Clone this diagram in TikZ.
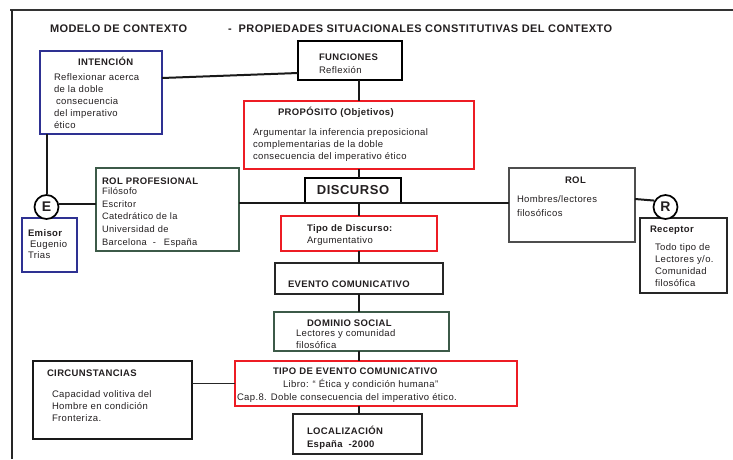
\documentclass[tikz,border=0pt]{standalone}
\usepackage{fontspec}
\setmainfont{Liberation Sans}[LetterSpace=4]
\definecolor{cblue}{HTML}{2E3192}
\definecolor{cred}{HTML}{ED1C24}
\definecolor{cgreen}{HTML}{3C5A48}
\definecolor{cgray}{HTML}{4D4D4D}
\definecolor{ctext}{HTML}{231F20}
\newcommand{\mlines}[1]{\begin{tabular}[t]{@{}l@{}}#1\end{tabular}}
\tikzset{
  bx/.style={draw, line width=1.5pt, inner sep=0pt, outer sep=0pt, anchor=north west, fill=white},
  ln/.style={line width=2pt, draw=black!90},
  tx/.style={inner sep=0pt, outer sep=0pt, anchor=base west, text=ctext, font=\fontsize{9.5}{12}\selectfont},
  hd/.style={tx, font=\fontsize{9.5}{12}\selectfont\bfseries},
  rnd/.style={circle, draw, line width=1.7pt, fill=white, minimum size=24pt, inner sep=0pt, text=ctext, font=\fontsize{14}{14}\selectfont\bfseries}
}
\begin{document}
\begin{tikzpicture}[x=1pt,y=-1pt]
\useasboundingbox (0,0) rectangle (733,459);
% frame
\draw[line width=2pt, draw=black!80] (10,10) -- (733,10);
\draw[line width=1.5pt, draw=black!85] (12,10) -- (12,459);
\coordinate (spine) at (359,0);
% title
\node[hd, font=\fontsize{11}{13}\selectfont\bfseries] (t1) at (50,32) {MODELO DE CONTEXTO};
\node[hd, font=\fontsize{11}{13}\selectfont\bfseries] (t2) at (228,32) {-\hspace{7pt}PROPIEDADES SITUACIONALES CONSTITUTIVAS DEL CONTEXTO};
% boxes
\node[bx, draw=cblue, minimum width=122pt, minimum height=83pt] (intencion) at (40,51) {};
\node[bx, draw=black, minimum width=104pt, minimum height=39pt] (funciones) at (298,41) {};
\node[bx, draw=cred, minimum width=230pt, minimum height=68pt] (proposito) at (244,101) {};
\node[bx, draw=black, line width=1.8pt, minimum width=96pt, minimum height=25pt, text=ctext, font=\fontsize{13}{13}\selectfont\bfseries] (discurso) at (305,178) {DISCURSO};
\node[bx, draw=cgreen, minimum width=143pt, minimum height=83pt] (rolprof) at (96,168) {};
\node[bx, draw=cblue, minimum width=55pt, minimum height=54pt] (emisor) at (22,218) {};
\node[bx, draw=cred, minimum width=156pt, minimum height=35pt] (tipodisc) at (281,216) {};
\node[bx, draw=black!85, minimum width=168pt, minimum height=31pt] (evento) at (275,263) {};
\node[bx, draw=cgreen, minimum width=175pt, minimum height=39pt] (dominio) at (274,312) {};
\node[bx, draw=cred, minimum width=282pt, minimum height=45pt] (tipoev) at (235,361) {};
\node[bx, draw=black!90, minimum width=159pt, minimum height=78pt] (circunst) at (33,361) {};
\node[bx, draw=black!85, minimum width=129pt, minimum height=40pt] (local) at (293,414) {};
\node[bx, draw=cgray, minimum width=126pt, minimum height=74pt] (rol) at (509,168) {};
\node[bx, draw=black!85, minimum width=87pt, minimum height=75pt] (receptor) at (640,218) {};
\node[rnd] (E) at (46.5,207) {E};
\node[rnd] (R) at (665.5,207) {R};
% connectors
\draw[ln] ([yshift=-27pt]intencion.north east) -- ([yshift=-32pt]funciones.north west);
\draw[ln] (funciones.south -| spine) -- (proposito.north -| spine);
\draw[ln] (proposito.south -| spine) -- (discurso.north -| spine);
\draw[ln] (discurso.south -| spine) -- (tipodisc.north -| spine);
\draw[ln] (tipodisc.south -| spine) -- (evento.north -| spine);
\draw[ln] (evento.south -| spine) -- (dominio.north -| spine);
\draw[ln] (dominio.south -| spine) -- (tipoev.north -| spine);
\draw[ln] (tipoev.south -| spine) -- (local.north -| spine);
\draw[ln] (E.north) -- (E.north |- intencion.south);
\draw[ln] (E.14) -- (E.14 -| rolprof.west);
\draw[ln] (rolprof.east |- discurso.south) -- (rol.west |- discurso.south);
\draw[ln] ([yshift=-31pt]rol.north east) -- (R.150);
\draw[line width=1pt, draw=black!85] (tipoev.west -| circunst.east) -- (tipoev.west);
% texts
\node[hd] (intT) at (78,65) {INTENCIÓN};
\node[tx, font=\fontsize{9.5}{12.2}\selectfont] (intB) at (54,80) {\mlines{Reflexionar acerca\\de la doble\\\hspace{2pt}consecuencia\\del imperativo\\ético}};
\node[hd] (funT) at (319,60) {FUNCIONES};
\node[tx] (funB) at (319,73) {Reflexión};
\node[hd] (proT) at (278,115) {PROPÓSITO (Objetivos)};
\node[tx] (proB) at (253,135) {\mlines{Argumentar la inferencia preposicional\\complementarias de la doble\\consecuencia del imperativo ético}};
\node[hd] (rpT) at (102,184) {ROL PROFESIONAL};
\node[tx, font=\fontsize{9.3}{12.7}\selectfont] (rpB) at (102,194.5) {\mlines{Filósofo\\Escritor\\Catedrático de la\\Universidad de\\Barcelona\hspace{6pt}-\hspace{8pt}España}};
\node[hd] (emT) at (28,236) {Emisor};
\node[tx] (emB1) at (30,247) {Eugenio};
\node[tx] (emB2) at (28,258.5) {Trias};
\node[hd] (tdT) at (307,231) {Tipo de Discurso:};
\node[tx] (tdB) at (307,243) {Argumentativo};
\node[hd] (evT) at (288,287) {EVENTO COMUNICATIVO};
\node[hd] (doT) at (307,326) {DOMINIO SOCIAL};
\node[tx] (doB) at (296,336) {\mlines{Lectores y comunidad\\filosófica}};
\node[hd] (teT) at (273,374) {TIPO DE EVENTO COMUNICATIVO};
\node[tx] (teB1) at (283,387) {Libro: “\hspace{3pt}Ética y condición humana”};
\node[tx] (teB2) at (237,400) {Cap.8. Doble consecuencia del imperativo ético.};
\node[hd] (ciT) at (47,376) {CIRCUNSTANCIAS};
\node[tx] (ciB) at (52,397) {\mlines{Capacidad volitiva del\\Hombre en condición\\Fronteriza.}};
\node[hd] (loT) at (307,434) {LOCALIZACIÓN};
\node[hd] (loB) at (307,447) {España\hspace{6pt}-2000};
\node[hd] (roT) at (565,183) {ROL};
\node[tx] (roB1) at (517,202) {Hombres/lectores};
\node[tx] (roB2) at (517,216) {filosóficos};
\node[hd] (reT) at (650,232) {Receptor};
\node[tx] (reB) at (655,250) {\mlines{Todo tipo de\\Lectores y/o.\\Comunidad\\filosófica}};
\end{tikzpicture}
\end{document}
